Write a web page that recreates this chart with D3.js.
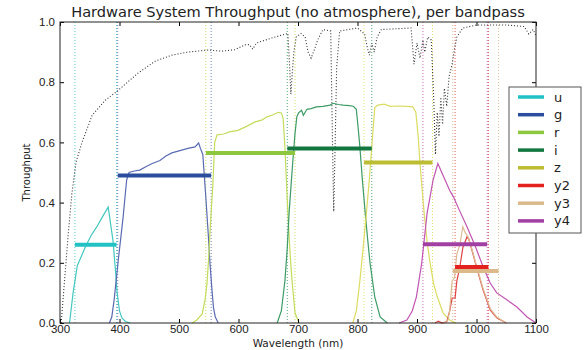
<!DOCTYPE html>
<html>
<head>
<meta charset="utf-8">
<script src="https://cdn.jsdelivr.net/npm/d3@7"></script>
<style>
  body { margin: 0; background: #fff; }
  svg { font-family: "DejaVu Sans", sans-serif; }
  .tick text { fill: #222; }
</style>
</head>
<body>
<div id="chart"></div>
<script>
// bands, in legend order
const bands = ["u", "g", "r", "i", "z", "y2", "y3", "y4"];
// effective-width bars: level and edges (nm)
const barLevel = [0.26, 0.49, 0.565, 0.58, 0.533, 0.186, 0.173, 0.262];
const edgeLo = [325, 397, 545, 682, 811, 964, 960, 910];
const edgeHi = [395, 554, 695, 824, 926, 1020, 1037, 1018];

// throughput curves [nm, throughput]
const uCurve = [[316,0],[322,0.1],[329,0.19],[342,0.25],[352,0.29],[362,0.32],[372,0.355],[381,0.385],[389,0.275],[393,0.18],[396,0.1],[400,0.04],[404,0.017],[410,0.005],[418,0]];
const gCurve = [[383,0],[387,0.02],[391,0.077],[398,0.21],[406,0.35],[412,0.475],[416,0.5],[425,0.505],[434,0.508],[445,0.52],[455,0.53],[468,0.54],[478,0.555],[488,0.565],[500,0.572],[515,0.58],[527,0.585],[533,0.598],[536,0.58],[540,0.56],[545,0.42],[549,0.3],[552,0.2],[555,0.12],[558,0.05],[561,0.02],[566,0]];
const rCurve = [[522,0],[530,0.01],[539,0.03],[544,0.08],[547,0.13],[550,0.22],[552,0.3],[555,0.4],[557,0.46],[560,0.6],[564,0.625],[575,0.628],[585,0.635],[599,0.64],[610,0.65],[620,0.66],[628,0.668],[640,0.675],[648,0.685],[656,0.69],[667,0.70],[672,0.698],[675,0.68],[678,0.585],[683,0.365],[687,0.22],[690,0.14],[695,0.033],[702,0]];
const iCurve = [[665,0],[672,0.04],[678,0.14],[682,0.25],[685,0.365],[691,0.53],[695,0.63],[698,0.685],[701,0.698],[706,0.707],[709,0.69],[715,0.71],[722,0.712],[731,0.718],[742,0.72],[754,0.724],[759,0.73],[768,0.726],[776,0.724],[786,0.722],[793,0.72],[798,0.71],[801,0.65],[804,0.585],[808,0.48],[813,0.365],[817,0.28],[821,0.2],[829,0.087],[838,0.02],[850,0]];
const zCurve = [[792,0],[798,0.04],[804,0.14],[810,0.26],[815,0.365],[820,0.48],[824,0.585],[829,0.715],[834,0.724],[845,0.727],[855,0.72],[870,0.721],[883,0.72],[893,0.718],[898,0.70],[902,0.62],[905,0.53],[912,0.365],[917,0.27],[922,0.2],[928,0.13],[934,0.087],[944,0.033],[955,0.01],[965,0]];
const y2Curve = [[930,0],[936,0.006],[942,0],[950,0.004],[955,0.04],[959,0.083],[964,0.083],[967,0.14],[972,0.186],[977,0.25],[984,0.286],[987,0.28],[994,0.23],[1000,0.186],[1011,0.11],[1023,0.043],[1034,0.017],[1050,0]];
const y3Curve = [[945,0],[952,0.01],[955,0.043],[959,0.14],[963,0.15],[967,0.23],[972,0.26],[977,0.32],[981,0.3],[986,0.286],[993,0.24],[1000,0.19],[1011,0.115],[1023,0.048],[1034,0.02],[1050,0]];
const y4Curve = [[870,0],[883,0.01],[892,0.04],[899,0.087],[908,0.2],[917,0.365],[927,0.475],[935,0.53],[945,0.485],[955,0.44],[961,0.42],[970,0.38],[984,0.32],[998,0.255],[1011,0.187],[1023,0.133],[1034,0.1],[1051,0.077],[1068,0.053],[1085,0.02],[1100,0]];

// atmosphere transmission (dotted)
const atmos = [[302,0],[308,0.15],[314,0.3],[320,0.43],[327,0.535],[337,0.6],[354,0.69],[376,0.74],[396,0.77],[431,0.83],[460,0.87],[488,0.89],[515,0.9],[549,0.907],[572,0.903],[594,0.908],[611,0.924],[618,0.925],[624,0.91],[630,0.93],[656,0.947],[683,0.962],[686,0.85],[688,0.76],[690,0.82],[693,0.9],[697,0.95],[705,0.962],[712,0.95],[717,0.9],[722,0.88],[727,0.905],[733,0.94],[742,0.975],[755,0.97],[758,0.6],[760,0.37],[762,0.55],[765,0.85],[770,0.97],[800,0.98],[812,0.96],[816,0.92],[820,0.89],[824,0.93],[828,0.9],[833,0.95],[840,0.975],[890,0.98],[895,0.86],[900,0.93],[905,0.88],[910,0.94],[913,0.9],[918,0.95],[924,0.94],[928,0.75],[931,0.56],[934,0.7],[937,0.62],[940,0.75],[943,0.66],[946,0.78],[950,0.72],[954,0.82],[959,0.86],[963,0.91],[967,0.95],[977,0.98],[1000,0.99],[1050,0.99],[1080,0.985],[1088,0.96],[1095,0.975],[1100,0.955]];

const xTicks = [300, 400, 500, 600, 700, 800, 900, 1000, 1100];
const yTicks = [0, 0.2, 0.4, 0.6, 0.8, 1.0];

const curves = [uCurve, gCurve, rCurve, iCurve, zCurve, y2Curve, y3Curve, y4Curve];
const barColor = ["#22c1c3", "#2a4d9e", "#8dc63f", "#11773f", "#bcbd32", "#e3211f", "#dbb98a", "#a23fa3"];
const lineColor = ["#43c7c0", "#5a6bb2", "#c3dc5c", "#3d9b66", "#dcdc62", "#e04242", "#dfbb92", "#c254b2"];

const width = 588, height = 350;
const padLeft = 60, padRight = 536, padTop = 22, padBottom = 323;

const svg = d3.select("#chart").append("svg")
    .attr("width", width)
    .attr("height", height);

const x = d3.scaleLinear().domain([300, 1100]).range([padLeft, padRight]);
const y = d3.scaleLinear().domain([0, 1]).range([padBottom, padTop]);

const line = d3.line().x(d => x(d[0])).y(d => y(d[1]));

const plot = svg.append("g");

// band edges, dotted
bands.forEach((b, k) => {
    [edgeLo[k], edgeHi[k]].forEach(e => {
        plot.append("line")
            .attr("x1", x(e)).attr("x2", x(e))
            .attr("y1", y(0)).attr("y2", y(1))
            .attr("stroke", lineColor[k])
            .attr("stroke-width", 1)
            .attr("stroke-dasharray", "1,2")
            .attr("opacity", 0.85);
    });
});

plot.append("path")
    .attr("d", line(atmos))
    .attr("fill", "none")
    .attr("stroke", "#333")
    .attr("stroke-width", 1.1)
    .attr("stroke-dasharray", "1,2");

curves.forEach((c, k) => {
    plot.append("path")
        .attr("d", line(c))
        .attr("fill", "none")
        .attr("stroke", lineColor[k])
        .attr("stroke-width", 1.2);
});

bands.forEach((b, k) => {
    plot.append("line")
        .attr("x1", x(edgeLo[k])).attr("x2", x(edgeHi[k]))
        .attr("y1", y(barLevel[k])).attr("y2", y(barLevel[k]))
        .attr("stroke", barColor[k])
        .attr("stroke-width", 4);
});

// axes, ticks inward like matplotlib
const fmt = d3.format(".1f");
svg.append("g")
    .attr("transform", `translate(0,${padBottom})`)
    .call(d3.axisBottom(x).tickValues(xTicks).tickSize(-4).tickPadding(2).tickFormat(d3.format("d")))
    .call(g => g.select(".domain").remove())
    .call(g => g.selectAll("text").attr("font-size", 11.5));
svg.append("g")
    .attr("transform", `translate(0,${padTop})`)
    .call(d3.axisTop(x).tickValues(xTicks).tickSize(-4).tickFormat(""))
    .call(g => g.select(".domain").remove());
svg.append("g")
    .attr("transform", `translate(${padLeft},0)`)
    .call(d3.axisLeft(y).tickValues(yTicks).tickSize(-4).tickPadding(5).tickFormat(fmt))
    .call(g => g.select(".domain").remove())
    .call(g => g.selectAll("text").attr("font-size", 11.5));
svg.append("g")
    .attr("transform", `translate(${padRight},0)`)
    .call(d3.axisRight(y).tickValues(yTicks).tickSize(-4).tickFormat(""))
    .call(g => g.select(".domain").remove());

svg.append("rect")
    .attr("x", padLeft).attr("y", padTop)
    .attr("width", padRight - padLeft).attr("height", padBottom - padTop)
    .attr("fill", "none")
    .attr("stroke", "#222")
    .attr("stroke-width", 1);

svg.append("text")
    .attr("x", (padLeft + padRight) / 2).attr("y", 17)
    .attr("text-anchor", "middle")
    .attr("font-size", 14.6)
    .attr("fill", "#222")
    .text("Hardware System Throughput (no atmosphere), per bandpass");

svg.append("text")
    .attr("x", (padLeft + padRight) / 2).attr("y", 347)
    .attr("text-anchor", "middle")
    .attr("font-size", 10.5)
    .attr("fill", "#222")
    .text("Wavelength (nm)");

svg.append("text")
    .attr("transform", `translate(30,${(padTop + padBottom) / 2}) rotate(-90)`)
    .attr("text-anchor", "middle")
    .attr("font-size", 10)
    .attr("fill", "#222")
    .text("Throughput");

// legend
const legend = svg.append("g").attr("transform", "translate(509,87)");
legend.append("rect")
    .attr("width", 72).attr("height", 146)
    .attr("fill", "#fff")
    .attr("stroke", "#555");
bands.forEach((b, k) => {
    const ly = 10 + k * 17.7;
    legend.append("line")
        .attr("x1", 9).attr("x2", 35)
        .attr("y1", ly).attr("y2", ly)
        .attr("stroke", barColor[k])
        .attr("stroke-width", 3.5);
    legend.append("text")
        .attr("x", 45).attr("y", ly + 4.5)
        .attr("font-size", 13)
        .attr("fill", "#222")
        .text(b);
});
</script>
</body>
</html>
